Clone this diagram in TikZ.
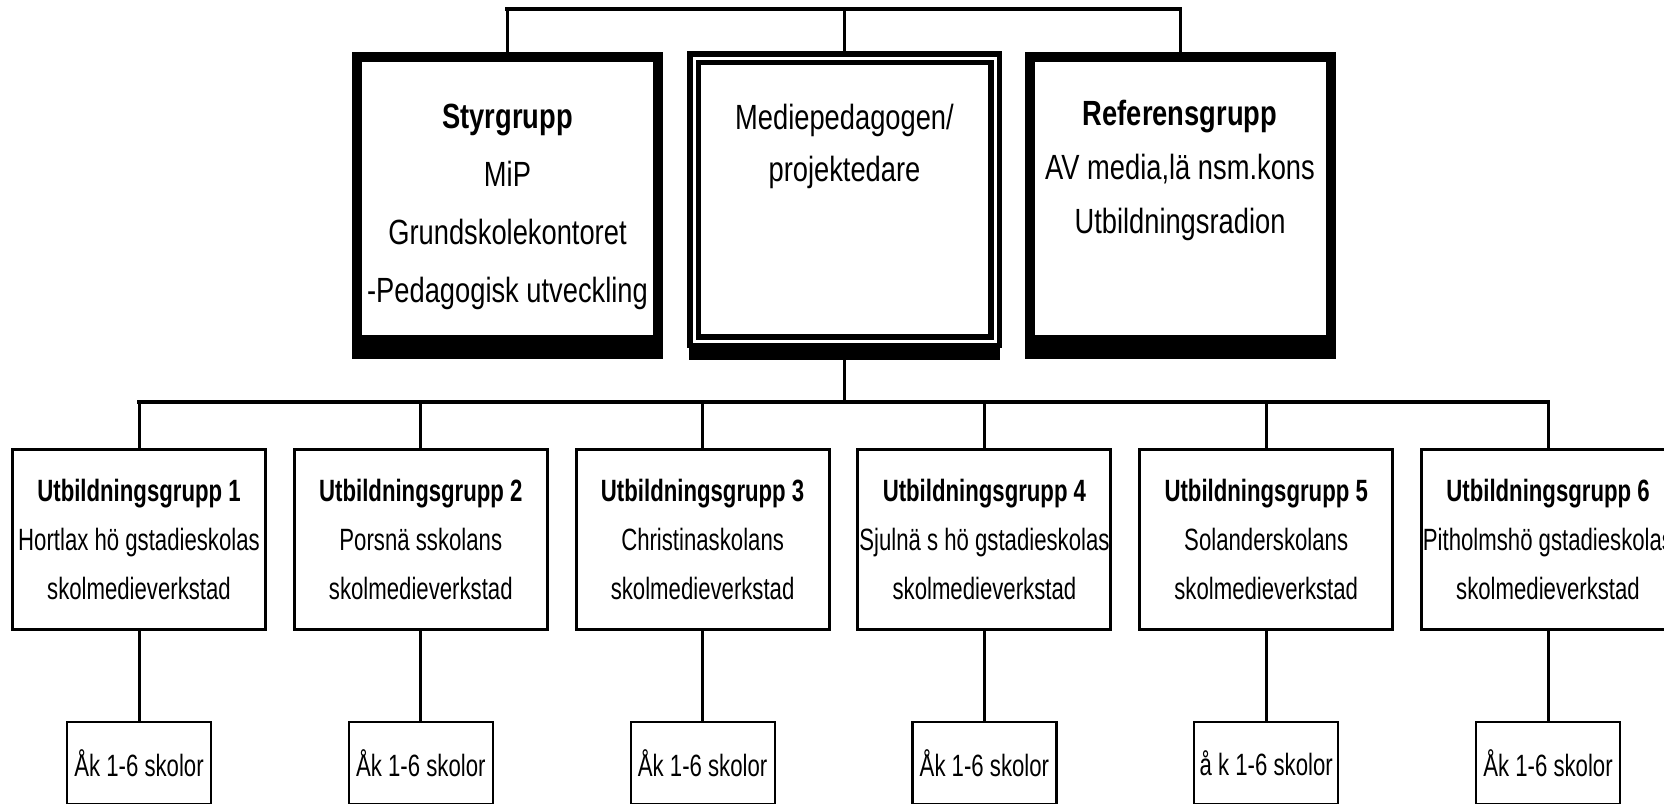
\documentclass[tikz,border=0pt]{standalone}
\usepackage{fontspec}
\setmainfont{Liberation Sans}[FakeStretch=0.72]
\newfontfamily\topfont{Liberation Sans}[FakeStretch=0.78]
\usepackage{tikz}
\usetikzlibrary{shadows}
\tikzset{
  topbox/.style={draw, fill=white, inner sep=0pt, align=center,
    minimum width=150.5pt, font=\topfont\fontsize{17.5}{29}\selectfont,
    drop shadow={shadow xshift=0pt, shadow yshift=-7pt, fill=black, draw=black,
      line width=5pt, opacity=1}},
  utbbox/.style={draw, line width=1.5pt, minimum width=126.5pt, minimum height=90pt,
    inner sep=0pt, align=center, font=\fontsize{15.4}{24.5}\selectfont},
  skolbox/.style={draw, line width=1.1pt, minimum width=72pt, minimum height=41pt,
    inner sep=0pt, font=\fontsize{15.4}{18}\selectfont},
  vline/.style={line width=1.5pt},
  hline/.style={line width=2.25pt, line cap=rect},
}

\begin{document}
\begin{tikzpicture}[x=0.5pt, y=-0.5pt]       % organisation chart
    \path[use as bounding box, fill=white] (0, 0) rectangle (1664, 803);
    \clip (0, 0) rectangle (1664, 803);

    \node[topbox, line width=5pt, text height=122.5pt, text depth=19pt] at (507.5, 198.5) (styr)
      {\textbf{Styrgrupp}\\MiP\\Grundskolekontoret\\-Pedagogisk utveckling};
    \node[topbox, line width=2.75pt, double=white, double distance=1.5pt,
      font=\topfont\fontsize{17.5}{26}\selectfont, text height=61.5pt, text depth=80pt] at (844.5, 199.5) (medie)
      {Mediepedagogen/\\projektedare};
    \node[topbox, line width=5pt, font=\topfont\fontsize{17.5}{27}\selectfont,
      text height=88pt, text depth=53.5pt] at (1180, 198.5) (ref)
      {\textbf{Referensgrupp}\\AV media,lä nsm.kons\\Utbildningsradion};

    \foreach \i/\x/\skola/\skol in {1/139/{Hortlax hö gstadieskolas}/{Åk 1-6 skolor},
        2/420.8/{Porsnä sskolans}/{Åk 1-6 skolor},
        3/702.6/{Christinaskolans}/{Åk 1-6 skolor},
        4/984.4/{Sjulnä s hö gstadieskolas}/{Åk 1-6 skolor},
        5/1266.2/{Solanderskolans}/{å k 1-6 skolor},
        6/1548/{Pitholmshö gstadieskolas}/{Åk 1-6 skolor}} {
      \node[utbbox] at (\x, 539.5) (u\i) {\textbf{Utbildningsgrupp \i}\\\skola\\skolmedieverkstad};
      \node[skolbox] at (\x, 763) (s\i) {\skol};
    }

    \coordinate (topbar) at (844.5, 9);
    \coordinate (midbar) at (844.5, 402);

    \draw[hline] (styr.north |- topbar) -- (ref.north |- topbar);
    \foreach \n in {styr, medie, ref}
      \draw[vline] (\n.north) -- (\n.north |- topbar);
    \draw[vline] (medie.south) -- (midbar);
    \draw[hline] (u1.north |- midbar) -- (u6.north |- midbar);
    \foreach \i in {1,...,6} {
      \draw[vline] (u\i.north) -- (u\i.north |- midbar);
      \draw[vline] (u\i.south) -- (s\i.north);
    }
  \end{tikzpicture}
\end{document}
